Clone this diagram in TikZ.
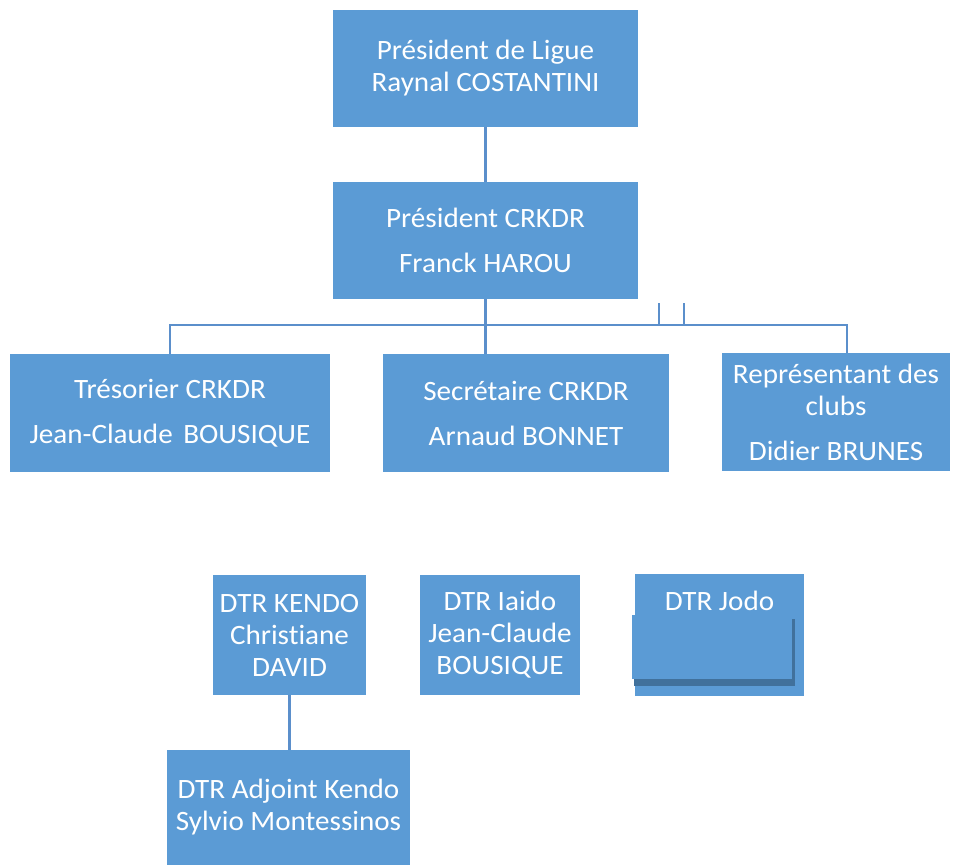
\documentclass[tikz,border=0pt]{standalone}
\usepackage{fontspec}
\setmainfont{Carlito}[FakeStretch=1.04, Ligatures=NoCommon]

\definecolor{boxblue}{HTML}{5B9BD5}
\definecolor{linkblue}{HTML}{5B8FCB}
\definecolor{shadeblue}{HTML}{41719C}

\tikzset{
  post/.style={fill=boxblue, text=white, align=center, inner sep=0pt,
    font=\fontsize{28}{32}\selectfont},
  link/.style={draw=linkblue, line width=2.5pt},
}

\begin{document}
\begin{tikzpicture}[x=1pt,y=-1pt]
  \useasboundingbox (0,0) rectangle (955,865);

  \node[post, minimum width=305, minimum height=117] (ligue) at (485.5,68.5) {Président de Ligue\\Raynal COSTANTINI};
  \node[post, minimum width=305, minimum height=117] (crkdr) at (485.5,240.5) {Président CRKDR\\[13pt]Franck HAROU};

  \node[post, minimum width=320, minimum height=118] (tres) at (170,413) {Trésorier CRKDR\\[13pt]Jean-Claude\hspace{4pt} BOUSIQUE};
  \node[post, minimum width=286, minimum height=118] (secr) at (526,413) {Secrétaire CRKDR\\[13pt]Arnaud BONNET};
  \node[post, minimum width=228, minimum height=118] (repr) at (836,412) {Représentant des\\clubs\\[13pt]Didier BRUNES};

  \node[post, minimum width=153, minimum height=120] (kendo) at (289.5,635) {DTR KENDO\\Christiane\\DAVID};
  \node[post, minimum width=160, minimum height=120] (iaido) at (500,635) {DTR Iaido\\Jean-Claude\\BOUSIQUE};
  \node[post, minimum width=169, minimum height=122] (jodo) at (719.5,635) {};
  \fill[shadeblue] (634,619) rectangle (795,686);
  \fill[boxblue] (632,615) rectangle (792,679);
  \node[post, fill=none] (jodotext) at (719.5,601) {DTR Jodo};

  \node[post, minimum width=243, minimum height=115] (adjoint) at (288.5,807.5) {DTR Adjoint Kendo\\Sylvio Montessinos};

  % connectors
  \coordinate (busR) at (847,325);
  \coordinate (tickA) at (659,303);
  \coordinate (tickB) at (684,303);
  \draw[link] (ligue) -- (crkdr);
  \draw[link] (crkdr.south) -- (crkdr.south |- secr.north);
  \draw[link] (tres.north) |- (busR) -- (busR |- repr.north);
  \draw[link] (tickA) -- (tickA |- busR);
  \draw[link] (tickB) -- (tickB |- busR);
  \draw[link] (kendo.south) -- (kendo.south |- adjoint.north);
\end{tikzpicture}
\end{document}
